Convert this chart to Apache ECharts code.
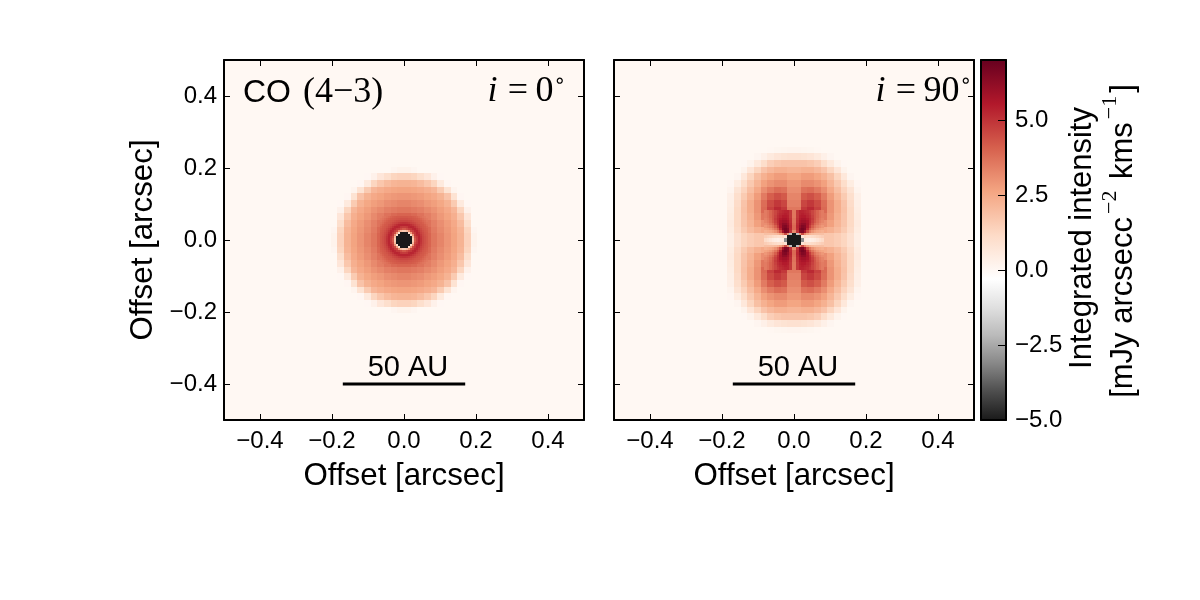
<!DOCTYPE html>
<html><head><meta charset="utf-8">
<style>html,body{margin:0;padding:0;background:#fff}#c{width:1200px;height:600px}</style>
<script src="https://cdn.jsdelivr.net/npm/echarts@6/dist/echarts.min.js"></script>
</head><body><div id="c"></div>
<script>
// Integrated intensity per quadrant, mJy arcsec^-2 km s^-1; rows run outward from the midplane.
const faceOnCoarse = [
[4.3,4.3,4.2,4.0,3.6,3.3,2.95,2.65,2.25,1.4,0.2],
[4.3,4.3,4.1,3.9,3.5,3.2,2.9,2.6,2.2,1.3,0.1],
[4.2,4.15,4.0,3.7,3.4,3.1,2.8,2.5,2.0,1.0,0],
[4.0,3.9,3.7,3.45,3.2,2.9,2.65,2.35,1.7,0.7,0],
[3.6,3.5,3.4,3.2,3.0,2.75,2.5,2.15,1.3,0.25,0],
[3.3,3.2,3.1,2.9,2.75,2.55,2.25,1.6,0.55,0.02,0],
[2.95,2.9,2.8,2.65,2.5,2.25,1.8,0.85,0.05,0,0],
[2.65,2.6,2.5,2.35,2.15,1.6,0.85,0.15,0,0,0],
[2.25,2.2,2.0,1.7,1.3,0.55,0.05,0,0,0,0],
[1.4,1.3,1.0,0.7,0.25,0.02,0,0,0,0,0],
[0.2,0.1,0,0,0,0,0,0,0,0,0]];
const faceOnFine = [
[-5,-5,-5,-5,1.6,4.2,4.8,5.3,5.0,4.6,4.4,4.25],
[-5,-5,-5,-5,2.0,4.5,4.9,5.3,4.95,4.6,4.4,4.25],
[-5,-5,-5,1.0,3.0,4.8,5.2,5.25,4.85,4.55,4.35,4.2],
[-5,-5,1.0,2.8,4.5,4.9,5.3,5.1,4.7,4.5,4.3,4.2],
[1.6,2.0,3.0,4.5,4.8,5.2,5.25,4.9,4.6,4.4,4.25,4.15],
[4.2,4.5,4.8,4.9,5.2,5.3,5.0,4.7,4.5,4.3,4.2,4.1],
[4.8,4.9,5.2,5.3,5.25,5.0,4.7,4.5,4.35,4.25,4.15,4.0],
[5.3,5.3,5.25,5.1,4.9,4.7,4.5,4.4,4.25,4.2,4.05,3.85],
[5.0,4.95,4.85,4.7,4.6,4.5,4.35,4.25,4.2,4.1,3.9,3.75],
[4.6,4.6,4.55,4.5,4.4,4.3,4.25,4.2,4.1,3.95,3.8,3.65],
[4.4,4.4,4.35,4.3,4.25,4.2,4.15,4.05,3.95,3.8,3.65,3.55],
[4.25,4.25,4.2,4.2,4.15,4.1,4.0,3.85,3.75,3.65,3.55,3.45]];
const edgeOnCoarse = [
[1.6,1.5,1.5,1.6,1.7,1.7,1.55,1.3,0.9,0.35,0],
[3.8,5.4,4.6,3.5,2.5,2.3,2.0,1.6,1.1,0.45,0],
[3.6,5.6,5.4,4.3,3.1,2.7,2.2,1.75,1.2,0.5,0],
[3.6,5.0,5.4,4.6,3.6,2.9,2.3,1.8,1.2,0.45,0],
[3.6,4.9,5.2,4.7,3.9,3.0,2.4,1.85,1.2,0.4,0],
[3.4,4.6,4.9,4.5,3.8,3.0,2.4,1.8,1.1,0.35,0],
[3.3,4.2,4.4,4.1,3.5,2.8,2.2,1.6,1.0,0.3,0],
[3.1,3.7,3.8,3.5,3.1,2.5,1.95,1.35,0.8,0.15,0],
[2.9,3.2,3.2,3.0,2.7,2.2,1.65,1.05,0.45,0.05,0],
[2.6,2.8,2.8,2.6,2.3,1.9,1.3,0.65,0.1,0,0],
[2.2,2.3,2.3,2.1,1.8,1.3,0.75,0.2,0,0,0],
[1.8,1.8,1.7,1.5,1.05,0.6,0.2,0.02,0,0,0],
[0.9,0.85,0.75,0.55,0.3,0.1,0,0,0,0,0],
[0.15,0.12,0.08,0.03,0,0,0,0,0,0,0]];
const edgeOnFine = [
[-5,-5,-5,-3,0.5,0.4,0.3,0.4,0.5,0.7,0.9,1.1],
[-5,-5,-5,0.8,1.2,1.0,1.0,1.1,1.2,1.3,1.4,1.5],
[-5,-2,3.0,4.5,3.2,2.6,2.2,2.0,1.9,1.9,1.9,1.9],
[3.2,5.0,6.4,6.6,5.8,4.4,3.5,3.0,2.7,2.5,2.4,2.3],
[3.9,5.2,6.4,6.7,6.5,5.3,4.2,3.6,3.2,2.9,2.7,2.6],
[3.9,5.3,6.1,6.5,6.4,5.7,4.8,4.1,3.6,3.3,3.1,2.9],
[3.8,5.2,5.9,6.2,6.2,5.8,5.1,4.5,3.9,3.6,3.3,3.1],
[3.7,5.1,5.7,5.9,5.9,5.7,5.2,4.7,4.2,3.8,3.5,3.3],
[3.7,5.0,5.5,5.7,5.7,5.5,5.2,4.8,4.3,3.9,3.6,3.4],
[3.6,4.9,5.4,5.5,5.5,5.3,5.1,4.7,4.3,4.0,3.7,3.5],
[3.6,4.9,5.3,5.4,5.3,5.2,5.0,4.6,4.3,4.0,3.7,3.5],
[3.6,4.9,5.3,5.3,5.2,5.1,4.9,4.6,4.3,4.0,3.7,3.5]];

// Cell sizes of the two resolution levels, arcsec.
const coarseCell = 0.0185;
const faceOnFineCell = 0.00556;
const edgeOnFineCell = 0.00694;

const offsetTicks = [-0.4, -0.2, 0, 0.2, 0.4];
const intensityTicks = [-5, -2.5, 0, 2.5, 5];
const intensityRange = [-5, 7];
const scaleBarX = [-0.17, 0.17];
const scaleBarY = -0.4;
const scaleBarLabel = '50 AU';

// Diverging colour scale with its white point just below zero.
const scaleValues = [-5, -4.06, -3.12, -2.18, -1.24, -0.3, 1.16, 2.62, 4.08, 5.54, 7];
const scaleColors = ['#1a1a1a','#4d4d4d','#878787','#bababa','#e0e0e0','#ffffff','#fddbc7','#f4a582','#d6604d','#b2182b','#67001f'];

const SANS = '"Liberation Sans", Arial, sans-serif';
const SERIF = '"Liberation Serif", "Times New Roman", serif';

function hexRgb(h){return [1,3,5].map(i=>parseInt(h.substr(i,2),16));}
function colorOf(v){
  if(v<=scaleValues[0]) return scaleColors[0];
  for(let i=1;i<scaleValues.length;i++){
    if(v<=scaleValues[i]){
      const t=(v-scaleValues[i-1])/(scaleValues[i]-scaleValues[i-1]);
      const a=hexRgb(scaleColors[i-1]),b=hexRgb(scaleColors[i]);
      return 'rgb('+a.map((c,k)=>Math.round(c+(b[k]-c)*t)).join(',')+')';
    }
  }
  return scaleColors[scaleColors.length-1];
}

// Unfolds a quadrant table into cells [x0,x1,y0,y1,value] on all four sides of the origin.
function cellsFrom(table, size){
  const out=[];
  table.forEach((row,j)=>row.forEach((v,i)=>{
    if(v===0) return;
    [1,-1].forEach(sx=>[1,-1].forEach(sy=>{
      out.push([sx*i*size,sx*(i+1)*size,sy*j*size,sy*(j+1)*size,v]);
    }));
  }));
  return out;
}
function renderCell(params,api){
  const a=api.coord([api.value(0),api.value(2)]),b=api.coord([api.value(1),api.value(3)]);
  const x=Math.round(Math.min(a[0],b[0])),y=Math.round(Math.min(a[1],b[1]));
  const w=Math.round(Math.max(a[0],b[0]))-x,h=Math.round(Math.max(a[1],b[1]))-y;
  return {type:'rect',shape:{x,y,width:w,height:h},style:{fill:colorOf(api.value(4))}};
}
function cellSeries(cells,idx,z){
  return {type:'custom',xAxisIndex:idx,yAxisIndex:idx,data:cells,renderItem:renderCell,
    encode:{x:[0,1],y:[2,3]},z,silent:true,clip:true,animation:false,progressive:0};
}

const minus=s=>String(s).replace('-','\u2212');
const fmt1=v=>minus(Number(v).toFixed(1));
const spine={show:true,onZero:false,lineStyle:{color:'#000',width:2}};
const tickStyle={color:'#000',width:1};

function panelAxes(gridIndex,withY){
  const base={type:'value',min:-0.5,max:0.5,gridIndex,splitLine:{show:false},z:5};
  const tick={show:true,inside:true,length:6,lineStyle:tickStyle,customValues:offsetTicks};
  const xs=[
    {...base,position:'bottom',axisLine:spine,axisTick:tick,
     axisLabel:{show:true,customValues:offsetTicks,formatter:fmt1,fontFamily:SANS,fontSize:24,color:'#000',margin:9},
     name:'Offset [arcsec]',nameLocation:'middle',nameGap:41,nameTextStyle:{fontFamily:SANS,fontSize:31.3,color:'#000',verticalAlign:'top'}},
    {...base,position:'top',axisLine:spine,axisTick:tick,axisLabel:{show:false}}];
  const ys=[
    {...base,position:'left',axisLine:spine,axisTick:tick,
     axisLabel:{show:withY,customValues:offsetTicks,formatter:fmt1,fontFamily:SANS,fontSize:24,color:'#000',margin:7},
     ...(withY?{name:'Offset [arcsec]',nameLocation:'middle',nameGap:65,nameTextStyle:{fontFamily:SANS,fontSize:31.3,color:'#000'}}:{})},
    {...base,position:'right',axisLine:spine,axisTick:tick,axisLabel:{show:false}}];
  return {xs,ys};
}
const L=panelAxes(0,true),R=panelAxes(1,false);
const barBase={type:'value',gridIndex:2,min:0,max:1,axisTick:{show:false},axisLabel:{show:false},splitLine:{show:false},axisLine:spine,z:5};
const xAxes=[L.xs[0],R.xs[0],{...barBase,position:'bottom'},L.xs[1],R.xs[1],{...barBase,position:'top'}];
const cbY={type:'value',gridIndex:2,min:intensityRange[0],max:intensityRange[1],splitLine:{show:false},z:5,axisLine:spine};
const yAxes=[L.ys[0],R.ys[0],
  {...cbY,position:'right',
   axisTick:{show:true,inside:true,length:8,lineStyle:tickStyle,customValues:intensityTicks},
   axisLabel:{show:true,customValues:intensityTicks,formatter:fmt1,fontFamily:SANS,fontSize:24,color:'#000',margin:9}},
  L.ys[1],R.ys[1],
  {...cbY,position:'left',axisTick:{show:false},axisLabel:{show:false}}];

function scaleBar(idx){
  return [
    {type:'line',xAxisIndex:idx,yAxisIndex:idx,data:scaleBarX.map(x=>[x,scaleBarY]),symbol:'none',
     lineStyle:{color:'#000',width:3},z:4,silent:true,animation:false},
    {type:'scatter',xAxisIndex:idx,yAxisIndex:idx,data:[[0,scaleBarY]],symbolSize:0,z:4,silent:true,animation:false,
     itemStyle:{opacity:1},
     label:{show:true,position:'top',distance:2,offset:[4,0],formatter:scaleBarLabel,fontFamily:SANS,fontSize:29,color:'#000',opacity:1}}
  ];
}

// The colour bar is a single rectangle spanning the scale, shaded by a gradient from the same stops.
const barStops=scaleValues.map((v,i)=>({offset:(intensityRange[1]-v)/(intensityRange[1]-intensityRange[0]),color:scaleColors[i]})).reverse();
const colorBar={type:'custom',xAxisIndex:2,yAxisIndex:2,data:[[0,1,intensityRange[0],intensityRange[1]]],z:2,silent:true,animation:false,
  encode:{x:[0,1],y:[2,3]},
  renderItem(p,api){
    const a=api.coord([api.value(0),api.value(3)]),b=api.coord([api.value(1),api.value(2)]);
    return {type:'rect',shape:{x:a[0],y:a[1],width:b[0]-a[0],height:b[1]-a[1]},
      style:{fill:new echarts.graphic.LinearGradient(0,0,0,1,barStops)}};
  }};

function inclination(deg){
  return {text:'{i|i}{e|=}{n|'+deg+'}{d|\u2218}',
    rich:{i:{fontFamily:SERIF,fontStyle:'italic',fontSize:36,width:16},e:{fontFamily:SERIF,fontSize:36,width:35,align:'center'},
      n:{fontFamily:SERIF,fontSize:36},d:{fontFamily:'"DejaVu Sans"',fontSize:20,verticalAlign:'top',lineHeight:40}}};
}
const graphic=[
  {type:'text',x:243,y:93,z:10,style:{text:'{a|CO}{m|(4\u22123)}',verticalAlign:'middle',fill:'#000',
    rich:{a:{fontFamily:SANS,fontSize:32},m:{fontFamily:SERIF,fontSize:36,padding:[0,0,0,12]}}}},
  {type:'text',x:566,y:92,z:10,style:{...inclination(0),align:'right',verticalAlign:'middle',fill:'#000'}},
  {type:'text',x:972,y:92,z:10,style:{...inclination(90),align:'right',verticalAlign:'middle',fill:'#000'}},
  {type:'text',x:1082,y:238,rotation:Math.PI/2,z:10,style:{text:'Integrated intensity',font:'31px '+SANS,align:'center',verticalAlign:'middle',fill:'#000'}},
  {type:'text',x:1119,y:241,rotation:Math.PI/2,z:10,style:{
    text:'{t|[mJy arcsecc}{s|\u22122}{t| kms}{s|\u22121}{t|]}',align:'center',verticalAlign:'middle',fill:'#000',
    rich:{t:{fontFamily:SANS,fontSize:31,lineHeight:40,verticalAlign:'bottom'},s:{fontFamily:SERIF,fontSize:22,lineHeight:40,verticalAlign:'top',padding:[0,3,0,3]}}}}
];

const chart=echarts.init(document.getElementById('c'),null,{renderer:'canvas'});
chart.setOption({
  animation:false,
  backgroundColor:'#fff',
  grid:[
    {left:224,top:60,width:360,height:360,show:true,backgroundColor:colorOf(0),borderWidth:0},
    {left:614,top:60,width:360,height:360,show:true,backgroundColor:colorOf(0),borderWidth:0},
    {left:981,top:60,width:25,height:360,show:false}
  ],
  xAxis:xAxes,yAxis:yAxes,graphic,
  series:[
    cellSeries(cellsFrom(faceOnCoarse,coarseCell),0,2),
    cellSeries(cellsFrom(faceOnFine,faceOnFineCell),0,3),
    cellSeries(cellsFrom(edgeOnCoarse,coarseCell),1,2),
    cellSeries(cellsFrom(edgeOnFine,edgeOnFineCell),1,3),
    colorBar,
    ...scaleBar(0),...scaleBar(1)
  ]
});
</script></body></html>
